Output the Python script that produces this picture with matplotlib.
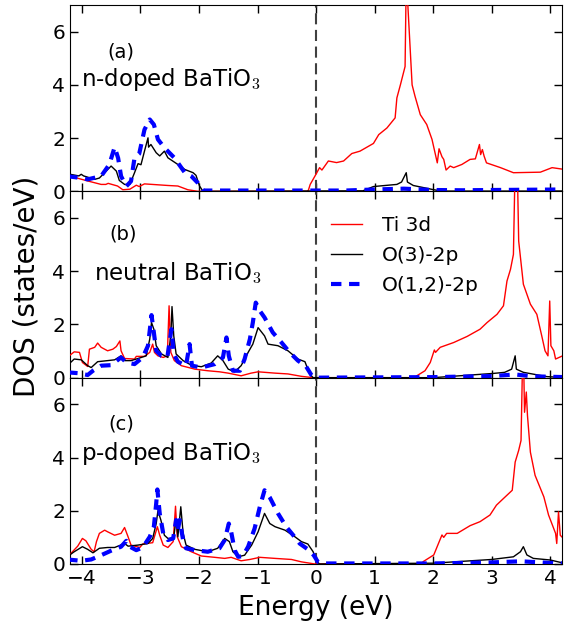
import matplotlib
matplotlib.use('Agg')
import matplotlib.pyplot as plt
import matplotlib as mpl

# ---- data ----
# panel (a) n-doped
a_ti_x = [-4.25, -3.90, -3.67, -3.59, -3.55, -3.39, -3.30, -3.18, -3.07, -3.02, -2.93, -2.53, -2.36, -2.19, -2.02,
          -0.15, -0.13, -0.10, -0.02, 0.06, 0.10, 0.21, 0.35, 0.47, 0.61, 0.75, 0.98, 1.07, 1.21, 1.35, 1.38, 1.44,
          1.52, 1.537, 1.555, 1.64, 1.69, 1.78, 1.89, 1.98, 2.07, 2.10, 2.15, 2.18, 2.22, 2.29, 2.35, 2.49, 2.63,
          2.72, 2.79, 2.81, 2.84, 2.87, 2.91, 3.15, 3.37, 3.83, 4.03, 4.25]
a_ti_y = [0.60, 0.39, 0.26, 0.26, 0.30, 0.20, 0.06, 0.08, 0.23, 0.18, 0.28, 0.22, 0.20, 0.06, 0.0,
          0.0, 0.05, 0.26, 0.57, 0.89, 0.80, 1.14, 1.08, 1.14, 1.42, 1.51, 1.80, 2.13, 2.38, 2.76, 3.51, 4.00,
          4.69, 7.5, 7.5, 4.00, 3.57, 2.88, 2.51, 1.95, 1.07, 1.60, 1.30, 1.20, 0.80, 0.95, 0.89, 1.01, 1.20,
          1.22, 1.76, 1.38, 1.57, 1.32, 1.07, 0.89, 0.70, 0.72, 0.89, 0.82]
a_o3_x = [-4.25, -4.05, -4.01, -3.97, -3.78, -3.70, -3.50, -3.41, -3.36, -3.27, -3.18, -3.10, -3.04, -2.99, -2.93,
          -2.87, -2.86, -2.82, -2.73, -2.67, -2.59, -2.53, -2.36, -2.24, -2.10, -2.05, -1.99, -1.93, 0.80, 0.98,
          1.38, 1.46, 1.54, 1.56, 1.66, 2.01, 2.15, 4.25]
a_o3_y = [0.66, 0.58, 0.64, 0.58, 0.45, 0.50, 0.95, 0.76, 0.41, 0.26, 0.26, 0.70, 1.04, 1.00, 1.51,
          2.01, 1.66, 1.76, 1.45, 1.33, 1.51, 1.26, 1.01, 0.82, 0.70, 0.60, 0.20, 0.0, 0.02, 0.18,
          0.26, 0.35, 0.70, 0.35, 0.22, 0.06, 0.01, 0.01]
a_o12_x = [-4.25, -4.01, -3.90, -3.67, -3.53, -3.44, -3.38, -3.33, -3.24, -3.16, -3.10, -3.02, -2.93, -2.84, -2.77,
           -2.70, -2.59, -2.42, -2.24, -2.13, -2.02, -1.93, 0.5, 1.0, 1.5, 2.0, 2.5, 3.0, 4.25]
a_o12_y = [0.57, 0.50, 0.45, 0.57, 1.01, 1.66, 1.25, 0.57, 0.19, 0.38, 1.26, 1.41, 2.32, 2.70, 2.51,
           1.95, 1.64, 1.26, 0.70, 0.57, 0.32, 0.03, 0.03, 0.07, 0.10, 0.05, 0.04, 0.05, 0.07]

# panel (b) neutral
b_ti_x = [-4.25, -4.13, -4.04, -3.99, -3.90, -3.87, -3.78, -3.73, -3.67, -3.56, -3.47, -3.41, -3.35, -3.33, -3.27,
          -3.10, -3.07, -2.93, -2.84, -2.79, -2.76, -2.70, -2.61, -2.54, -2.51, -2.48, -2.42, -2.30, -2.07, -1.85,
          -1.65, -1.50, -1.28, -1.11, -0.99, -0.70, -0.48, -0.25, -0.05, 1.70, 1.72, 1.86, 1.95, 2.02, 2.04, 2.12,
          2.35, 2.58, 2.80, 2.92, 3.09, 3.20, 3.26, 3.32, 3.37, 3.395, 3.44, 3.46, 3.54, 3.66, 3.77, 3.86, 3.91,
          3.96, 3.99, 4.01, 4.06, 4.09, 4.25]
b_ti_y = [0.76, 0.97, 0.95, 0.57, 0.42, 1.07, 1.14, 1.30, 1.14, 1.01, 1.07, 1.17, 1.38, 1.01, 0.72,
          0.70, 0.80, 0.80, 0.95, 1.26, 0.95, 0.82, 0.76, 0.82, 2.70, 0.95, 0.64, 0.45, 0.32, 0.26,
          0.22, 0.17, 0.07, 0.17, 0.22, 0.17, 0.14, 0.05, 0.0, 0.0, 0.07, 0.26, 0.57, 1.04, 0.95, 1.14,
          1.32, 1.55, 1.82, 2.07, 2.38, 2.70, 3.63, 4.07, 4.63, 7.5, 7.5, 5.13, 3.51, 2.76, 2.38, 1.51, 1.01,
          0.82, 2.88, 1.20, 1.01, 0.70, 0.86]
b_o3_x = [-4.25, -4.13, -4.01, -3.90, -3.84, -3.73, -3.56, -3.44, -3.33, -3.27, -3.16, -3.04, -2.90, -2.84, -2.81,
          -2.77, -2.73, -2.64, -2.53, -2.48, -2.46, -2.43, -2.39, -2.27, -2.13, -1.96, -1.79, -1.68, -1.59, -1.50,
          -1.39, -1.28, -1.16, -1.08, -0.99, -0.88, -0.82, -0.65, -0.48, -0.31, -0.19, -0.11, -0.05, 2.0, 3.03,
          3.22, 3.34, 3.40, 3.42, 3.54, 3.94, 4.25]
b_o3_y = [0.45, 0.70, 0.67, 0.45, 0.38, 0.60, 0.64, 0.67, 0.82, 0.64, 0.64, 0.72, 0.82, 1.45, 2.07,
          1.82, 1.20, 0.89, 0.76, 1.57, 2.67, 1.57, 0.89, 0.64, 0.47, 0.41, 0.55, 0.82, 0.64, 0.32,
          0.22, 0.45, 0.95, 1.26, 1.88, 1.57, 1.26, 1.20, 1.01, 0.70, 0.60, 0.14, 0.0, 0.0, 0.16,
          0.20, 0.32, 0.82, 0.32, 0.20, 0.04, 0.0]
b_o12_x = [-4.25, -4.07, -3.90, -3.81, -3.67, -3.50, -3.33, -3.24, -3.10, -2.96, -2.87, -2.81, -2.77, -2.73, -2.64,
           -2.54, -2.47, -2.43, -2.36, -2.22, -2.16, -2.12, -1.96, -1.73, -1.59, -1.53, -1.49, -1.42, -1.30, -1.22,
           -1.13, -1.08, -1.03, -0.96, -0.88, -0.74, -0.59, -0.45, -0.31, -0.17, -0.08, -0.02, 2.0, 3.0, 3.4,
           3.7, 4.25]
b_o12_y = [0.20, 0.17, 0.10, 0.26, 0.45, 0.47, 0.76, 0.57, 0.51, 0.76, 1.20, 2.35, 1.70, 1.01, 0.82,
           0.76, 1.82, 0.89, 0.60, 0.45, 1.26, 0.45, 0.38, 0.51, 0.76, 1.51, 0.82, 0.26, 0.26, 0.70,
           1.45, 2.07, 2.82, 2.51, 2.26, 1.70, 1.32, 0.95, 0.64, 0.42, 0.10, 0.0, 0.02, 0.06, 0.12,
           0.05, 0.02]

# panel (c) p-doped
c_ti_x = [-4.25, -4.07, -3.99, -3.93, -3.84, -3.79, -3.75, -3.70, -3.61, -3.56, -3.44, -3.33, -3.27, -3.21, -3.16,
          -3.01, -2.96, -2.79, -2.71, -2.67, -2.61, -2.53, -2.44, -2.40, -2.37, -2.30, -2.13, -1.96, -1.73, -1.56,
          -1.45, -1.28, -1.13, -0.96, -0.70, -0.42, -0.25, -0.02, 1.80, 1.83, 2.01, 2.09, 2.15, 2.18, 2.23,
          2.41, 2.63, 2.80, 2.97, 3.08, 3.20, 3.35, 3.40, 3.46, 3.50, 3.525, 3.545, 3.56, 3.59, 3.61,
          3.66, 3.74, 3.89, 3.97, 4.09, 4.11, 4.14, 4.17, 4.25]
c_ti_y = [0.25, 0.67, 0.96, 0.87, 0.55, 0.46, 0.84, 1.15, 1.27, 1.21, 1.08, 1.15, 1.37, 1.02, 0.71,
          0.62, 0.75, 0.80, 1.40, 1.08, 0.71, 0.62, 0.84, 2.17, 1.02, 0.65, 0.46, 0.30, 0.25, 0.21,
          0.25, 0.12, 0.17, 0.25, 0.21, 0.17, 0.08, 0.0, 0.0, 0.09, 0.34, 0.77, 1.09, 1.00, 1.15,
          1.15, 1.44, 1.59, 1.84, 2.21, 2.46, 2.77, 3.83, 4.27, 4.64, 7.5, 7.5, 5.70, 6.46, 5.58,
          4.20, 3.33, 2.52, 1.84, 1.15, 0.77, 1.96, 1.08, 0.90]
c_o3_x = [-4.25, -4.13, -3.99, -3.90, -3.81, -3.70, -3.56, -3.44, -3.27, -3.21, -3.04, -2.87, -2.79, -2.73, -2.70,
          -2.65, -2.59, -2.50, -2.43, -2.39, -2.36, -2.31, -2.27, -2.22, -2.07, -1.85, -1.68, -1.56, -1.48, -1.42,
          -1.33, -1.22, -1.10, -0.99, -0.88, -0.79, -0.70, -0.53, -0.36, -0.25, -0.14, -0.05, 0.0, 0.06, 2.0,
          3.00, 3.37, 3.49, 3.54, 3.60, 3.71, 4.00, 4.25]
c_o3_y = [0.27, 0.46, 0.65, 0.55, 0.42, 0.59, 0.62, 0.62, 0.77, 0.67, 0.71, 0.77, 0.96, 1.52, 2.00,
          1.65, 1.08, 0.90, 1.02, 1.67, 1.02, 2.15, 1.15, 0.71, 0.55, 0.46, 0.59, 0.96, 0.84, 0.46,
          0.27, 0.33, 0.71, 1.21, 1.90, 1.52, 1.40, 1.27, 1.02, 0.84, 0.75, 0.46, 0.12, 0.0, 0.03,
          0.17, 0.27, 0.46, 0.65, 0.34, 0.21, 0.15, 0.02]
c_o12_x = [-4.25, -4.01, -3.84, -3.67, -3.50, -3.33, -3.24, -3.18, -3.07, -2.96, -2.84, -2.77, -2.73, -2.71, -2.67,
           -2.61, -2.53, -2.44, -2.39, -2.36, -2.33, -2.27, -2.22, -2.07, -1.85, -1.65, -1.56, -1.49, -1.45, -1.39,
           -1.33, -1.25, -1.16, -1.05, -0.96, -0.88, -0.79, -0.65, -0.51, -0.39, -0.28, -0.14, -0.04, 0.03, 0.10,
           2.0, 3.0, 3.5, 4.0, 4.25]
c_o12_y = [0.17, 0.12, 0.17, 0.33, 0.50, 0.65, 0.87, 0.65, 0.52, 0.62, 1.02, 1.40, 2.27, 2.80, 1.90,
           1.15, 0.90, 0.96, 1.65, 1.27, 1.65, 0.90, 0.59, 0.52, 0.46, 0.59, 0.90, 1.52, 1.21, 0.52,
           0.27, 0.30, 0.65, 1.33, 2.15, 2.77, 2.50, 1.90, 1.40, 1.08, 0.77, 0.55, 0.33, 0.08, 0.02,
           0.02, 0.06, 0.10, 0.04, 0.02]

labels = ['(a)', '(b)', '(c)']
titles = ['n-doped BaTiO$_3$', 'neutral BaTiO$_3$', 'p-doped BaTiO$_3$']
series_names = ['Ti 3d', 'O(3)-2p', 'O(1,2)-2p']

panels = [
    ((a_ti_x, a_ti_y), (a_o3_x, a_o3_y), (a_o12_x, a_o12_y)),
    ((b_ti_x, b_ti_y), (b_o3_x, b_o3_y), (b_o12_x, b_o12_y)),
    ((c_ti_x, c_ti_y), (c_o3_x, c_o3_y), (c_o12_x, c_o12_y)),
]

# ---- style ----
mpl.rcParams['font.family'] = ['DejaVu Sans']
mpl.rcParams['mathtext.fontset'] = 'cm'
mpl.rcParams['lines.scale_dashes'] = False

fig, axs = plt.subplots(3, 1, figsize=(5.7, 6.27), dpi=100, sharex=True)
fig.subplots_adjust(left=0.123, right=0.986, top=0.992, bottom=0.1005, hspace=0)

# text positions (data coords)
lab_pos = [(-3.33, 5.25), (-3.30, 5.4), (-3.33, 5.27)]
tit_pos = [(-4.02, 4.2), (-3.80, 3.94), (-4.02, 4.16)]

for i, ax in enumerate(axs):
    ti, o3, o12 = panels[i]
    ax.plot(ti[0], ti[1], color='r', lw=1.0, label=series_names[0], zorder=3)
    ax.plot(o3[0], o3[1], color='k', lw=1.0, label=series_names[1], zorder=3)
    ax.plot(o12[0], o12[1], color='b', lw=3.0, dashes=(7.5, 5.5), label=series_names[2], zorder=3)
    ax.axvline(0, color='0.25', lw=1.5, dashes=(8, 4))

    ax.set_xlim(-4.2, 4.2)
    ax.set_ylim(0, 7)
    ax.set_yticks([0, 2, 4, 6])
    ax.set_xticks([-4, -3, -2, -1, 0, 1, 2, 3, 4])
    ax.tick_params(direction='in', top=True, right=True, length=6, width=1, labelsize=14.5)

    ax.text(*lab_pos[i], labels[i], fontsize=14, ha='center', va='center')
    ax.text(*tit_pos[i], titles[i], fontsize=16.5, ha='left', va='center')

axs[1].legend(loc='upper left', bbox_to_anchor=(0.515, 0.91), frameon=False, fontsize=14.5,
              handlelength=1.5, handletextpad=1.0, labelspacing=0.55, borderaxespad=0)

axs[2].set_xticklabels(['\u22124', '\u22123', '\u22122', '\u22121', '0', '1', '2', '3', '4'])
axs[2].set_xlabel('Energy (eV)', fontsize=19, labelpad=5)
fig.text(0.047, 0.544, 'DOS (states/eV)', rotation=90, fontsize=20, ha='center', va='center')

plt.savefig('out.png', dpi=100)
plt.close()
